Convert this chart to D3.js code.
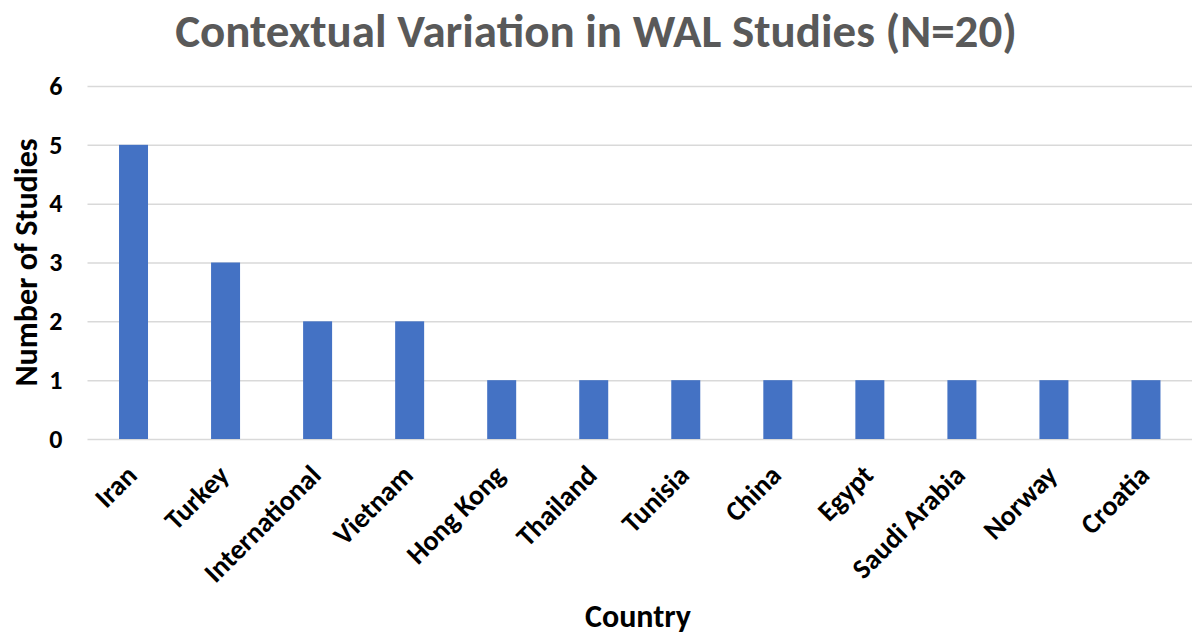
<!DOCTYPE html>
<html>
<head>
<meta charset="utf-8">
<script src="https://cdn.jsdelivr.net/npm/d3@7/dist/d3.min.js"></script>
<style>
  body { margin: 0; background: #fff; }
  svg text { font-family: Carlito, Lato, "Open Sans", sans-serif; }
</style>
</head>
<body>
<div id="chart"></div>
<script>
// data
const countries = ['Iran', 'Turkey', 'International', 'Vietnam', 'Hong Kong', 'Thailand',
  'Tunisia', 'China', 'Egypt', 'Saudi Arabia', 'Norway', 'Croatia'];
const studies = [5, 3, 2, 2, 1, 1, 1, 1, 1, 1, 1, 1];
const yTicks = [0, 1, 2, 3, 4, 5, 6];

const width = 1192, height = 636;
const margin = {top: 86, right: 0, bottom: 197, left: 87.5};

const svg = d3.select('#chart').append('svg')
    .attr('width', width)
    .attr('height', height);

const xScale = d3.scaleBand()
    .domain(countries)
    .range([margin.left, width - margin.right])
    .paddingInner(0.685)
    .paddingOuter(0.3425);

const yScale = d3.scaleLinear()
    .domain([0, 6])
    .range([height - margin.bottom, margin.top]);

// title
svg.append('text')
    .attr('x', 596)
    .attr('y', 47)
    .attr('text-anchor', 'middle')
    .attr('fill', '#595959')
    .attr('font-size', '47px')
    .attr('font-weight', 'bold')
    .text('Contextual Variation in WAL Studies (N=20)');

// gridlines + y labels
const yAxis = svg.append('g')
    .attr('class', 'y axis')
    .attr('transform', 'translate(' + margin.left + ',0)')
    .call(d3.axisLeft(yScale).tickValues(yTicks).tickFormat(d3.format('d'))
      .tickSize(-(width - margin.left)).tickPadding(25));

yAxis.select('path').attr('stroke', 'none');
yAxis.selectAll('g.tick line').attr('stroke', '#d9d9d9').attr('stroke-width', 1.5);
yAxis.selectAll('text')
    .attr('fill', '#000')
    .attr('font-size', '26px')
    .attr('font-weight', 'bold');

// bars
svg.append('g')
    .selectAll('rect')
    .data(studies)
    .join('rect')
    .attr('x', (d, i) => xScale(countries[i]))
    .attr('y', d => yScale(d))
    .attr('width', xScale.bandwidth())
    .attr('height', d => yScale(0) - yScale(d))
    .attr('fill', '#4472c4');

// x labels
const xAxis = svg.append('g')
    .attr('class', 'x axis')
    .attr('transform', 'translate(0,' + (height - margin.bottom) + ')')
    .call(d3.axisBottom(xScale).tickSize(0).tickPadding(0));

xAxis.select('path').attr('stroke', 'none');
xAxis.selectAll('text')
    .attr('fill', '#000')
    .attr('font-size', '28px')
    .attr('font-weight', 'bold')
    .attr('text-anchor', 'end')
    .attr('dy', null)
    .attr('transform', 'translate(5,38) rotate(-45)');

// axis titles
svg.append('text')
    .attr('transform', 'translate(37,' + (height - margin.bottom + margin.top) / 2 + ') rotate(-90)')
    .attr('text-anchor', 'middle')
    .attr('fill', '#000')
    .attr('font-size', '32px')
    .attr('font-weight', 'bold')
    .text('Number of Studies');

svg.append('text')
    .attr('x', 638)
    .attr('y', 627)
    .attr('text-anchor', 'middle')
    .attr('fill', '#000')
    .attr('font-size', '32px')
    .attr('font-weight', 'bold')
    .text('Country');
</script>
</body>
</html>
